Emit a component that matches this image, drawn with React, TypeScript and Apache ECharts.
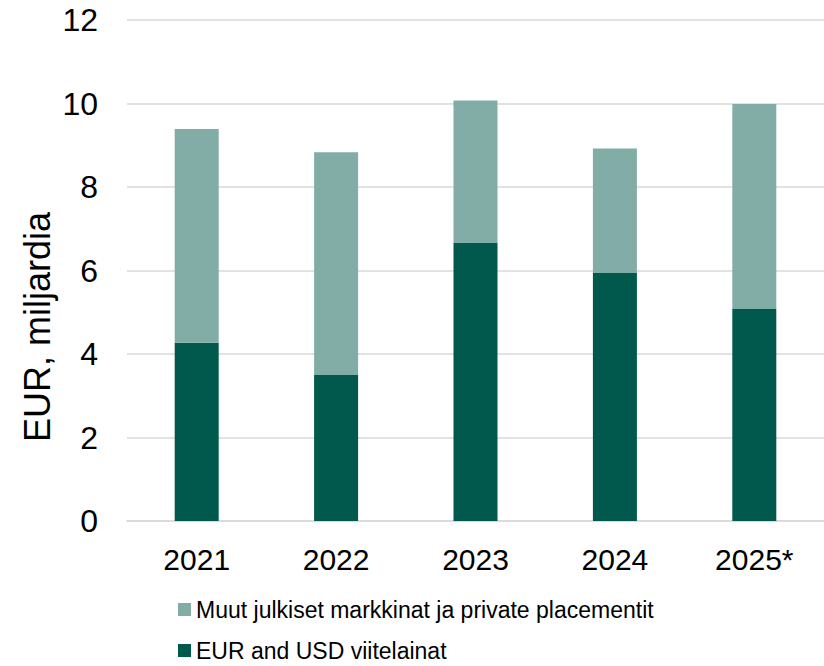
import React, { useEffect, useRef } from "react";
import * as echarts from "echarts";

const categories = ["2021", "2022", "2023", "2024", "2025*"];
const eurUsd = [4.27, 3.5, 6.66, 5.94, 5.08];
const muut = [5.12, 5.33, 3.41, 2.98, 4.91];
const seriesNames = ["Muut julkiset markkinat ja private placementit", "EUR and USD viitelainat"];
const yAxisTitle = "EUR, miljardia";

export default function App() {
  const ref = useRef<HTMLDivElement>(null);
  useEffect(() => {
    document.body.style.margin = "0";
    const chart = echarts.init(ref.current!, null, { renderer: "svg" });
    const font = "Arial, 'Liberation Sans', sans-serif";
    const legendBase = {
      orient: "vertical",
      left: 178,
      padding: 0,
      itemWidth: 13,
      itemHeight: 13,
      icon: "rect",
      textStyle: { fontSize: 23, color: "#000", fontFamily: font, lineHeight: 22 },
    };
    chart.setOption({
      animation: false,
      textStyle: { fontFamily: font },
      grid: { left: 127, top: 20, width: 700, bottom: 145 },
      legend: [
        { ...legendBase, top: 598, data: [seriesNames[0]] },
        { ...legendBase, top: 639, data: [seriesNames[1]] },
      ],
      graphic: [
        {
          type: "text",
          x: 37,
          y: 327,
          rotation: Math.PI / 2,
          style: {
            text: yAxisTitle,
            fontSize: 36,
            fontFamily: font,
            fill: "#000",
            textAlign: "center",
            textVerticalAlign: "middle",
          },
        },
      ],
      xAxis: {
        type: "category",
        data: categories,
        axisLine: { lineStyle: { color: "#D9D9D9", width: 1.5 } },
        axisTick: { show: false },
        axisLabel: { fontSize: 30, color: "#000", margin: 23, fontFamily: font },
      },
      yAxis: {
        type: "value",
        min: 0,
        max: 12,
        interval: 2,
        axisLabel: { fontSize: 32, color: "#000", margin: 29, fontFamily: font },
        splitLine: { lineStyle: { color: "#D9D9D9", width: 1.5 } },
        axisLine: { show: false },
        axisTick: { show: false },
      },
      series: [
        {
          name: seriesNames[1],
          type: "bar",
          stack: "total",
          data: eurUsd,
          barWidth: 44,
          itemStyle: { color: "#00594C" },
        },
        {
          name: seriesNames[0],
          type: "bar",
          stack: "total",
          data: muut,
          barWidth: 44,
          itemStyle: { color: "#82ADA6" },
        },
      ],
    });
    return () => chart.dispose();
  }, []);
  return <div ref={ref} style={{ width: 824, height: 666 }} />;
}
